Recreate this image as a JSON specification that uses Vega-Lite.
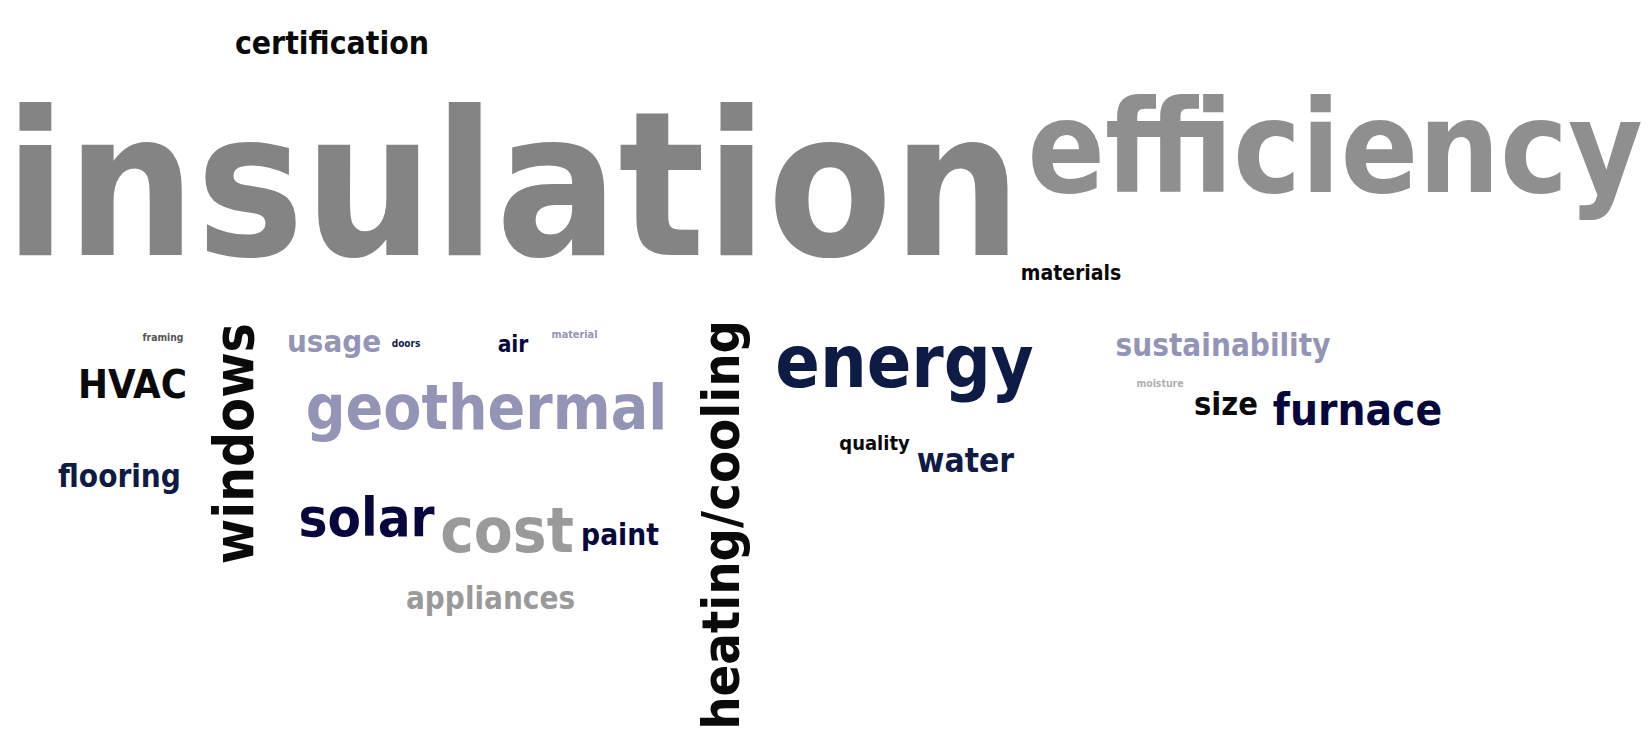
{
  "$schema": "https://vega.github.io/schema/vega-lite/v6.json",
  "autosize": {"type": "fit", "contains": "padding"},
  "width": 1651,
  "height": 729,
  "padding": 0,
  "background": "white",
  "config": {"view": {"stroke": null}},
  "data": {"values": [
    {"word": "insulation", "lx": 513, "ly": 256, "weight": 202, "tone": "gray1", "angle": 0},
    {"word": "certification", "lx": 332, "ly": 54, "weight": 31.7, "tone": "black", "angle": 0},
    {"word": "efficiency", "lx": 1335, "ly": 193, "weight": 127.6, "tone": "gray2", "angle": 0},
    {"word": "materials", "lx": 1071, "ly": 281, "weight": 21, "tone": "black", "angle": 0},
    {"word": "framing", "lx": 163, "ly": 342, "weight": 10.3, "tone": "darkgray", "angle": 0},
    {"word": "HVAC", "lx": 132.5, "ly": 399.5, "weight": 39.8, "tone": "black", "angle": 0},
    {"word": "windows", "lx": 252.5, "ly": 445.5, "weight": 54.7, "tone": "black", "angle": 270},
    {"word": "usage", "lx": 334, "ly": 353, "weight": 31, "tone": "lavender", "angle": 0},
    {"word": "doors", "lx": 406, "ly": 348.5, "weight": 10, "tone": "navy", "angle": 0},
    {"word": "air", "lx": 513, "ly": 353.7, "weight": 22.6, "tone": "indigo", "angle": 0},
    {"word": "geothermal", "lx": 486.5, "ly": 431, "weight": 61.8, "tone": "lavender", "angle": 0},
    {"word": "flooring", "lx": 119.5, "ly": 489.5, "weight": 31.2, "tone": "navy", "angle": 0},
    {"word": "solar", "lx": 366.5, "ly": 538.3, "weight": 54.2, "tone": "indigo", "angle": 0},
    {"word": "cost", "lx": 507, "ly": 554.3, "weight": 63.1, "tone": "gray3", "angle": 0},
    {"word": "appliances", "lx": 490.5, "ly": 612, "weight": 31.1, "tone": "gray3", "angle": 0},
    {"word": "material", "lx": 574.5, "ly": 339.5, "weight": 10.8, "tone": "lavender", "angle": 0},
    {"word": "paint", "lx": 620, "ly": 547.6, "weight": 29.6, "tone": "indigo", "angle": 0},
    {"word": "heating/cooling", "lx": 738.7, "ly": 527, "weight": 52, "tone": "black", "angle": 270},
    {"word": "energy", "lx": 904.5, "ly": 389, "weight": 73.1, "tone": "navy", "angle": 0},
    {"word": "quality", "lx": 874.5, "ly": 452, "weight": 20, "tone": "black", "angle": 0},
    {"word": "water", "lx": 965.5, "ly": 474, "weight": 33.3, "tone": "navy", "angle": 0},
    {"word": "sustainability", "lx": 1223, "ly": 357.3, "weight": 31.2, "tone": "lavender", "angle": 0},
    {"word": "moisture", "lx": 1160, "ly": 389, "weight": 10.4, "tone": "lightgray", "angle": 0},
    {"word": "size", "lx": 1226, "ly": 417, "weight": 32.3, "tone": "black", "angle": 0},
    {"word": "furnace", "lx": 1357.5, "ly": 426.5, "weight": 43.8, "tone": "indigo", "angle": 0}
  ]},
  "mark": {"type": "text", "font": "DejaVu Sans Condensed, DejaVu Sans, sans-serif", "fontWeight": "bold", "align": "center", "baseline": "alphabetic"},
  "encoding": {
    "x": {"field": "lx", "type": "quantitative", "scale": {"domain": [0, 1651], "nice": false, "zero": false}, "axis": null},
    "y": {"field": "ly", "type": "quantitative", "scale": {"domain": [0, 729], "nice": false, "zero": false, "reverse": true}, "axis": null},
    "text": {"field": "word", "type": "nominal"},
    "size": {"field": "weight", "type": "quantitative", "scale": {"type": "linear", "domain": [0, 300], "range": [0, 300], "zero": true}, "legend": null},
    "angle": {"field": "angle", "type": "quantitative", "scale": null},
    "color": {"field": "tone", "type": "nominal", "legend": null, "scale": {
      "domain": ["gray1", "gray2", "gray3", "lightgray", "darkgray", "black", "lavender", "navy", "indigo"],
      "range": ["#848484", "#8f8f8f", "#9a9a9a", "#b0b0b0", "#555555", "#0a0a0a", "#9495b6", "#0e1b45", "#07073e"]}}
  }
}
